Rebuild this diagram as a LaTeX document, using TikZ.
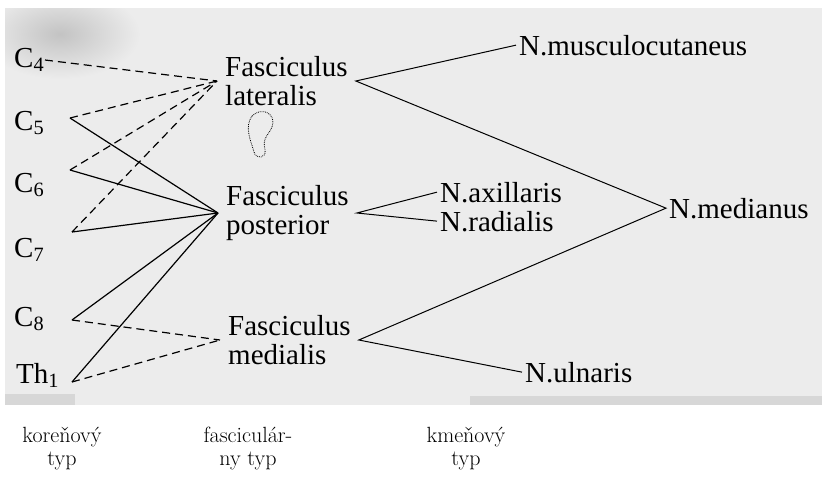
\documentclass[tikz,border=0pt]{standalone}
\usepackage{fontspec}
\usepackage{tikz}
\usetikzlibrary{positioning,calc}
\newfontfamily\nervefont{Liberation Serif}
\definecolor{ScanGray}{RGB}{236,236,236}
\definecolor{SmudgeGray}{RGB}{195,195,195}

\tikzset{
  nerve/.style={font={\nervefont\fontsize{29}{29.5}\selectfont}, inner ysep=0pt, inner xsep=3pt},
  fascicle/.style={nerve, align=left, inner xsep=8pt, anchor=west},
  root/.style={font={\nervefont\fontsize{29}{29.5}\selectfont}, inner sep=0pt, anchor=base west},
  caption/.style={font={\fontsize{22}{23}\selectfont}, align=center, inner sep=0pt, anchor=north},
  fiber/.style={line width=1.2pt},
  trunk/.style={line width=1pt},
  variant/.style={line width=1.2pt, dash pattern=on 8pt off 5pt},
}

\begin{document}
\begin{tikzpicture}[x=1pt, y=-1pt]
  \useasboundingbox (0,0) rectangle (822,480);

  % Scanned plate
  \begin{scope}
    \clip (5,8) rectangle (822,405);
    \fill[ScanGray] (5,8) rectangle (822,405);
    \shade[inner color=SmudgeGray, outer color=ScanGray] (60,34) ellipse [x radius=80pt, y radius=45pt];
    \fill[SmudgeGray, opacity=0.5] (5,394) rectangle (75,405);
    \fill[SmudgeGray, opacity=0.5] (470,396) rectangle (822,405);
  \end{scope}

  % Roots
  \node[root] (c4) at (14,67) {C\textsubscript{4}};
  \node[root] (c5) at (14,130) {C\textsubscript{5}};
  \node[root] (c6) at (14,192) {C\textsubscript{6}};
  \node[root] (c7) at (14,257) {C\textsubscript{7}};
  \node[root] (c8) at (14,326) {C\textsubscript{8}};
  \node[root] (th1) at (16,383) {Th\textsubscript{1}};

  \coordinate (v4) at (45,60);
  \coordinate (v5) at (70,118);
  \coordinate (v6) at (70,170);
  \coordinate (v7) at (72,232);
  \coordinate (v8) at (72,320);
  \coordinate (v1) at (72,382);

  % Fascicles
  \node[fascicle] (lat) at (217,81) {Fasciculus\\lateralis};
  \node[fascicle] (post) at (218,213) {Fasciculus\\posterior};
  \node[fascicle] (med) at (220,340) {Fasciculus\\medialis};

  % Stray mark under lateralis
  \draw[densely dotted, line width=0.8pt] (252,116) .. controls (262,106) and (277,114) .. (272,127)
    .. controls (269,135) and (262,137) .. (265,150) .. controls (267,158) and (256,160) .. (254,152)
    .. controls (251,141) and (244,127) .. cycle;

  % Nerves
  \node[nerve, anchor=base west] (musc) at (516,55) {N.musculocutaneus};
  \node[nerve, anchor=base west] (axil) at (437,202) {N.axillaris};
  \node[nerve, anchor=base west] (radi) at (437,231) {N.radialis};
  \node[nerve, anchor=base west] (medi) at (666,218) {N.medianus};
  \node[nerve, anchor=base west] (ulna) at (522,382) {N.ulnaris};

  % Roots to fascicles
  \draw[variant] (v4) -- (lat.west);
  \foreach \v in {v5,v6,v7} {
    \draw[variant] (\v) -- (lat.west);
    \draw[fiber] (\v) -- (post.west);
  }
  \foreach \v in {v8,v1} {
    \draw[fiber] (\v) -- (post.west);
    \draw[variant] (\v) -- (med.west);
  }

  % Fascicles to nerves
  \draw[trunk] (musc.west) -- (lat.east) -- (medi.west) -- (med.east) -- (ulna.west);
  \draw[trunk] (axil.west) -- (post.east) -- (radi.west);

  % Types
  \node[caption] (kor) at (62,427) {koreňový\\typ};
  \node[caption] (fas) at (248,427) {fasciculár-\\ny typ};
  \node[caption] (kme) at (466,427) {kmeňový\\typ};
\end{tikzpicture}
\end{document}
